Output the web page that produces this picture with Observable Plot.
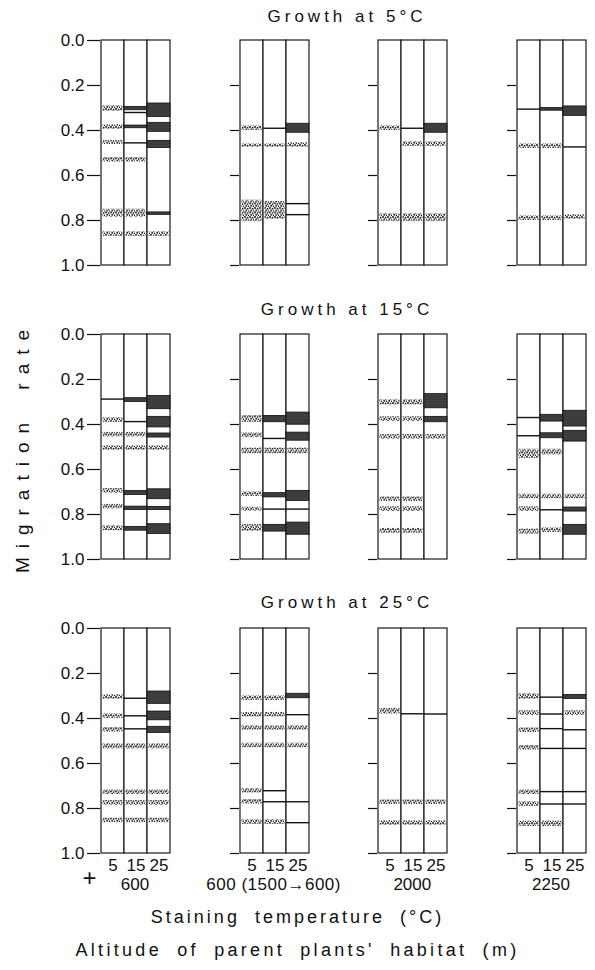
<!DOCTYPE html>
<html>
<head>
<meta charset="utf-8">
<script src="https://cdn.jsdelivr.net/npm/d3@7"></script>
<script src="https://cdn.jsdelivr.net/npm/@observablehq/plot@0.6"></script>
<style>
  body { margin: 0; background: white; }
  #wrap { width: 595px; font-family: 'Liberation Sans', Arial, sans-serif; color: #111; }
  #chart { position: relative; width: 595px; height: 900px; }
  #chart svg.col { position: absolute; top: 0; }
  .title { position: absolute; width: 240px; text-align: center; font-size: 17px; line-height: 20px; letter-spacing: 4px; padding-left: 4px; }
  .alt { position: absolute; width: 200px; text-align: center; font-size: 17px; line-height: 20px; top: 875px; }
  .cap { text-align: center; font-size: 18px; line-height: 26px; }
  #cap1 { margin-top: 4px; letter-spacing: 3px; word-spacing: 7px; }
  #cap2 { margin-top: 7px; letter-spacing: 3.3px; word-spacing: 7px; }
</style>
</head>
<body>
<svg width="0" height="0" style="position:absolute">
  <defs>
    <pattern id="stip" width="5" height="4.5" patternUnits="userSpaceOnUse">
      <circle cx="1" cy="1" r="1" fill="#111"/>
      <circle cx="3.6" cy="1.5" r="0.9" fill="#111"/>
      <circle cx="2.2" cy="3.4" r="0.95" fill="#111"/>
      <circle cx="4.6" cy="3.9" r="0.8" fill="#111"/>
    </pattern>
    <pattern id="darkstip" width="3" height="3" patternUnits="userSpaceOnUse">
      <rect width="3" height="3" fill="#333"/>
      <circle cx="1" cy="1" r="0.55" fill="#7a7a7a"/>
      <circle cx="2.4" cy="2.3" r="0.45" fill="#6a6a6a"/>
    </pattern>
  </defs>
</svg>
<div id="wrap">
  <div id="chart"></div>
  <div class="cap" id="cap1">Staining temperature (°C)</div>
  <div class="cap" id="cap2">Altitude of parent plants' habitat (m)</div>
</div>
<script>
// Growth temperatures (rows), altitudes (columns), staining temperatures (lanes)
const growthTemps = ["5", "15", "25"];
const altitudes = ["600", "600 (1500→600)", "2000", "2250"];
const stainTemps = ["5", "15", "25"];
const yTicks = [0, 0.2, 0.4, 0.6, 0.8, 1.0];
const minorTicks = [0.2, 0.4, 0.6, 0.8, 1.0];

// Dotted (faint) bands: [growth, altitude index, staining temp, from, to]
const dottedBands = [
  ["5",0,"5",0.29,0.315],["5",0,"5",0.375,0.395],["5",0,"5",0.445,0.462],["5",0,"5",0.52,0.54],["5",0,"5",0.75,0.785],["5",0,"5",0.85,0.87],
  ["5",0,"15",0.52,0.54],["5",0,"15",0.75,0.785],["5",0,"15",0.85,0.87],
  ["5",0,"25",0.85,0.87],
  ["5",1,"5",0.38,0.4],["5",1,"5",0.46,0.475],["5",1,"5",0.71,0.805],
  ["5",1,"15",0.46,0.475],["5",1,"15",0.715,0.795],
  ["5",1,"25",0.455,0.475],
  ["5",2,"5",0.38,0.4],["5",2,"5",0.77,0.805],
  ["5",2,"15",0.45,0.47],["5",2,"15",0.77,0.805],
  ["5",2,"25",0.45,0.47],["5",2,"25",0.77,0.805],
  ["5",3,"5",0.46,0.48],["5",3,"5",0.78,0.8],
  ["5",3,"15",0.46,0.48],["5",3,"15",0.78,0.8],
  ["5",3,"25",0.775,0.795],

  ["15",0,"5",0.37,0.39],["15",0,"5",0.435,0.455],["15",0,"5",0.495,0.515],["15",0,"5",0.685,0.705],["15",0,"5",0.755,0.775],["15",0,"5",0.85,0.872],
  ["15",0,"15",0.435,0.455],["15",0,"15",0.495,0.515],
  ["15",0,"25",0.495,0.515],
  ["15",1,"5",0.36,0.39],["15",1,"5",0.438,0.458],["15",1,"5",0.505,0.53],["15",1,"5",0.7,0.72],["15",1,"5",0.768,0.785],["15",1,"5",0.845,0.875],
  ["15",1,"15",0.505,0.53],
  ["15",1,"25",0.505,0.53],
  ["15",2,"5",0.29,0.313],["15",2,"5",0.366,0.386],["15",2,"5",0.445,0.465],["15",2,"5",0.722,0.742],["15",2,"5",0.766,0.786],["15",2,"5",0.862,0.884],
  ["15",2,"15",0.29,0.313],["15",2,"15",0.366,0.386],["15",2,"15",0.445,0.465],["15",2,"15",0.722,0.742],["15",2,"15",0.766,0.786],["15",2,"15",0.862,0.884],
  ["15",2,"25",0.445,0.465],
  ["15",3,"5",0.51,0.55],["15",3,"5",0.71,0.73],["15",3,"5",0.766,0.786],["15",3,"5",0.865,0.887],
  ["15",3,"15",0.51,0.535],["15",3,"15",0.71,0.73],["15",3,"15",0.86,0.88],
  ["15",3,"25",0.71,0.73],

  ["25",0,"5",0.295,0.315],["25",0,"5",0.38,0.4],["25",0,"5",0.44,0.46],["25",0,"5",0.512,0.535],["25",0,"5",0.718,0.738],["25",0,"5",0.765,0.785],["25",0,"5",0.843,0.863],
  ["25",0,"15",0.512,0.535],["25",0,"15",0.718,0.738],["25",0,"15",0.765,0.785],["25",0,"15",0.843,0.863],
  ["25",0,"25",0.512,0.535],["25",0,"25",0.718,0.738],["25",0,"25",0.765,0.785],["25",0,"25",0.843,0.863],
  ["25",1,"5",0.3,0.32],["25",1,"5",0.373,0.393],["25",1,"5",0.432,0.452],["25",1,"5",0.51,0.53],["25",1,"5",0.711,0.731],["25",1,"5",0.76,0.78],["25",1,"5",0.85,0.87],
  ["25",1,"15",0.3,0.32],["25",1,"15",0.373,0.393],["25",1,"15",0.432,0.452],["25",1,"15",0.51,0.53],["25",1,"15",0.85,0.87],
  ["25",1,"25",0.432,0.452],["25",1,"25",0.51,0.53],
  ["25",2,"5",0.355,0.38],["25",2,"5",0.762,0.782],["25",2,"5",0.855,0.875],
  ["25",2,"15",0.762,0.782],["25",2,"15",0.855,0.875],
  ["25",2,"25",0.762,0.782],["25",2,"25",0.855,0.875],
  ["25",3,"5",0.29,0.315],["25",3,"5",0.366,0.386],["25",3,"5",0.442,0.462],["25",3,"5",0.52,0.54],["25",3,"5",0.718,0.738],["25",3,"5",0.77,0.79],["25",3,"5",0.856,0.88],
  ["25",3,"15",0.856,0.88],
  ["25",3,"25",0.366,0.386]
];

// Dark (intense) bands: [growth, altitude index, staining temp, from, to]
const darkBands = [
  ["5",0,"15",0.295,0.31],["5",0,"15",0.378,0.39],
  ["5",0,"25",0.28,0.34],["5",0,"25",0.366,0.406],["5",0,"25",0.446,0.478],["5",0,"25",0.764,0.775],
  ["5",1,"25",0.37,0.41],
  ["5",2,"25",0.37,0.41],
  ["5",3,"15",0.3,0.312],["5",3,"25",0.293,0.335],

  ["15",0,"15",0.283,0.3],["15",0,"15",0.695,0.713],["15",0,"15",0.765,0.78],["15",0,"15",0.855,0.872],
  ["15",0,"25",0.273,0.332],["15",0,"25",0.366,0.413],["15",0,"25",0.44,0.458],["15",0,"25",0.688,0.732],["15",0,"25",0.766,0.78],["15",0,"25",0.843,0.887],
  ["15",1,"15",0.362,0.39],["15",1,"15",0.705,0.724],["15",1,"15",0.846,0.876],
  ["15",1,"25",0.347,0.401],["15",1,"25",0.436,0.472],["15",1,"25",0.695,0.74],["15",1,"25",0.836,0.89],
  ["15",2,"25",0.265,0.328],["15",2,"25",0.366,0.39],
  ["15",3,"15",0.357,0.387],["15",3,"15",0.439,0.461],
  ["15",3,"25",0.339,0.409],["15",3,"25",0.428,0.476],["15",3,"25",0.769,0.787],["15",3,"25",0.846,0.89],

  ["25",0,"25",0.28,0.335],["25",0,"25",0.369,0.408],["25",0,"25",0.437,0.464],
  ["25",1,"25",0.29,0.31],
  ["25",3,"25",0.295,0.313]
];

// Thin line bands: [growth, altitude index, staining temp, position]
const lineBands = [
  ["5",0,"15",0.32],["5",0,"15",0.455],
  ["5",1,"15",0.39],["5",1,"25",0.725],["5",1,"25",0.774],
  ["5",2,"15",0.39],
  ["5",3,"5",0.305],["5",3,"25",0.473],

  ["15",0,"5",0.287],["15",0,"15",0.387],
  ["15",1,"15",0.462],["15",1,"15",0.776],["15",1,"25",0.776],
  ["15",3,"5",0.369],["15",3,"5",0.45],["15",3,"15",0.779],

  ["25",0,"15",0.31],["25",0,"15",0.388],["25",0,"15",0.446],
  ["25",1,"15",0.721],["25",1,"15",0.77],["25",1,"25",0.383],["25",1,"25",0.77],["25",1,"25",0.863],
  ["25",2,"15",0.379],["25",2,"25",0.38],
  ["25",3,"15",0.305],["25",3,"15",0.38],["25",3,"15",0.445],["25",3,"15",0.533],["25",3,"15",0.725],["25",3,"15",0.78],
  ["25",3,"25",0.45],["25",3,"25",0.533],["25",3,"25",0.725],["25",3,"25",0.78]
];

const dotted = dottedBands.map(([g, a, s, v1, v2]) => ({g, a, s, v1, v2}));
const dark = darkBands.map(([g, a, s, v1, v2]) => ({g, a, s, v1, v2}));
const lines = lineBands.map(([g, a, s, v]) => ({g, a, s, v}));
const lanes = d3.cross(growthTemps, stainTemps).map(([g, s]) => ({g, s}));

const font = "'Liberation Sans', Arial, sans-serif";
// layout of the four panel columns (pixels)
const firstPanelLeft = 100, panelStep = 138.67, panelWidth = 70;

const chart = document.getElementById("chart");

altitudes.forEach((alt, a) => {
  const first = a === 0;
  const ml = first ? 100 : 10;
  const left = firstPanelLeft + a * panelStep - ml;
  const marks = [
    Plot.barY(lanes, {fy: "g", x: "s", y1: 0, y2: 1, fill: "white", stroke: "#1a1a1a", strokeWidth: 1.2}),
    Plot.barY(dotted.filter(d => d.a === a), {fy: "g", x: "s", y1: "v1", y2: "v2", fill: "url(#stip)", insetLeft: 1.5, insetRight: 1.5}),
    Plot.barY(dark.filter(d => d.a === a), {fy: "g", x: "s", y1: "v1", y2: "v2", fill: "url(#darkstip)", stroke: "#111", strokeWidth: 0.8}),
    Plot.tickY(lines.filter(d => d.a === a), {fy: "g", x: "s", y: "v", stroke: "#111", strokeWidth: 1.4}),
    Plot.axisX({tickSize: 0, tickPadding: 5, label: null, fontSize: 17})
  ];
  if (first) {
    marks.push(
      Plot.axisY({ticks: yTicks, tickFormat: d3.format(".1f"), tickSize: 13, tickPadding: 3, label: null, fontSize: 17, strokeWidth: 1.2}),
      Plot.text(["Migration rate"], {fy: () => growthTemps[1], frameAnchor: "left", textAnchor: "middle", dx: -78, rotate: -90, fontSize: 19}),
      Plot.text(["+"], {fy: () => growthTemps[2], frameAnchor: "bottom-left", textAnchor: "middle", lineAnchor: "middle", dx: -11, dy: 25, fontSize: 24})
    );
  } else {
    marks.push(Plot.axisY({ticks: minorTicks, tickFormat: () => "", tickSize: 9, label: null, strokeWidth: 1.2}));
  }
  const svg = Plot.plot({
    width: ml + panelWidth + 3,
    height: 900,
    marginTop: 40,
    marginLeft: ml,
    marginRight: 3,
    marginBottom: 47,
    style: {fontFamily: font, fontSize: "17px", background: "transparent", color: "#111", overflow: "hidden"},
    fy: {domain: growthTemps, paddingInner: 0.2347, paddingOuter: 0, axis: null},
    x: {domain: stainTemps, padding: 0},
    y: {domain: [0, 1], reverse: true, axis: null},
    marks
  });
  svg.classList.add("col");
  svg.style.left = left + "px";
  d3.select(svg).selectAll("text").each(function() {
    if (this.textContent === "Migration rate") d3.select(this).style("letter-spacing", "9px").style("word-spacing", "10px");
  });
  chart.appendChild(svg);

  // altitude label under the column
  const lab = document.createElement("div");
  lab.className = "alt";
  lab.textContent = alt;
  lab.style.left = (firstPanelLeft + a * panelStep + panelWidth / 2 - 100) + "px";
  if (a === 1) lab.style.letterSpacing = "0.5px";
  chart.appendChild(lab);
});

// row titles centred over the four columns
const titleTops = [7, 300, 593];
growthTemps.forEach((g, i) => {
  const t = document.createElement("div");
  t.className = "title";
  t.textContent = `Growth at ${g}°C`;
  t.style.left = (343 - 120) + "px";
  t.style.top = titleTops[i] + "px";
  chart.appendChild(t);
});
</script>
</body>
</html>
